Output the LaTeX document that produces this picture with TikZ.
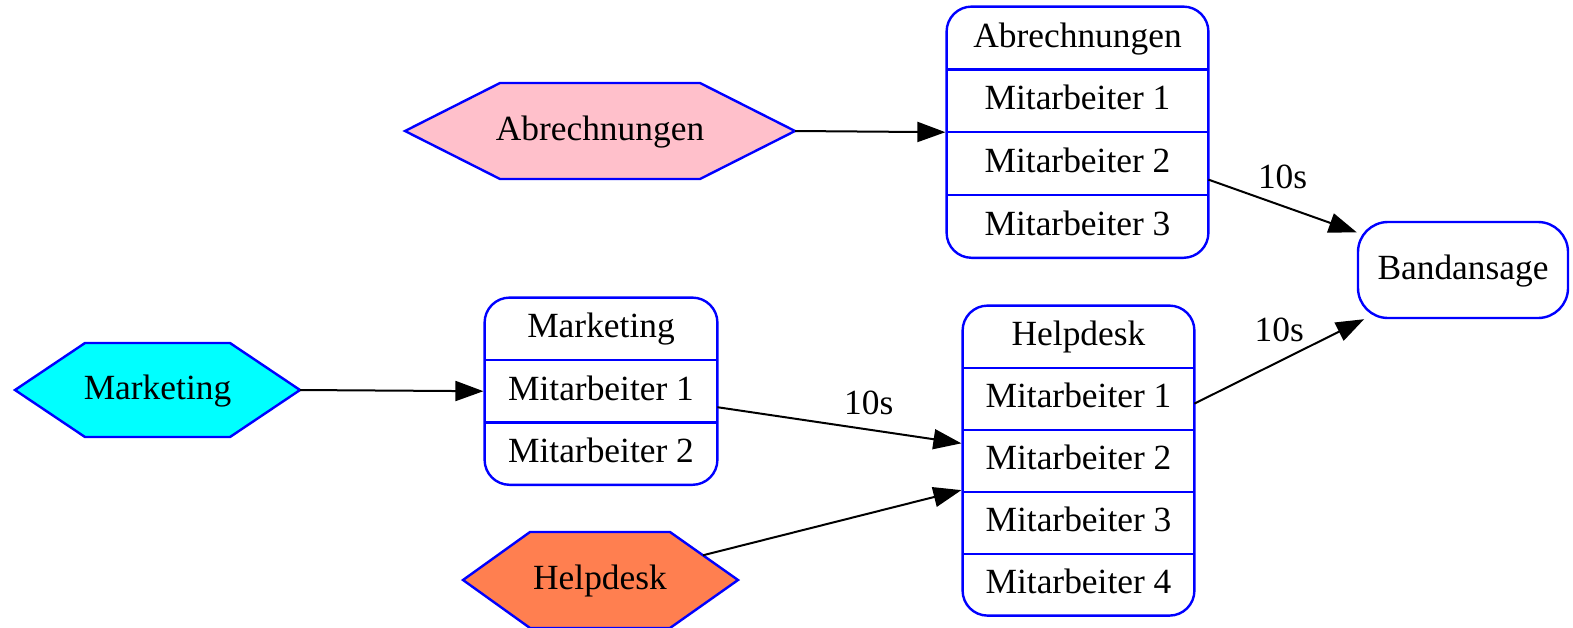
\documentclass[tikz,border=0pt]{standalone}
\usepackage{fontspec}
\setmainfont{Liberation Serif}
\usetikzlibrary{arrows.meta, positioning, fit, calc}

\definecolor{hexpink}{HTML}{FFC0CB}
\definecolor{hexcyan}{HTML}{00FFFF}
\definecolor{hexcoral}{HTML}{FF7F50}

\begin{document}
\begin{tikzpicture}[
  x=0.5pt, y=-0.5pt,
  font=\fontsize{17.7pt}{21pt}\selectfont,
  txt/.style = {inner sep=0, text height=13.3pt, text depth=4.3pt},
  row/.style = {txt, minimum height=31pt},
  abrrow/.style = {row, minimum width=130.5pt},
  mktrow/.style = {row, minimum width=116pt, minimum height=30.8pt},
  hdrow/.style = {row, minimum width=115.5pt, minimum height=30.6pt},
  rec/.style = {draw=blue, line width=1.2pt, rounded corners=12.5pt, inner sep=0},
  divline/.style = {draw=blue, line width=1.1pt},
  hexa/.style = {draw=blue, line width=1.2pt, line join=miter},
  arrow/.style = {line width=1pt, -{Triangle[length=14pt, width=10pt]}},
  lbl/.style = {txt}
]
  \useasboundingbox (0,0) rectangle (1573,627);

  % Abrechnungen
  \draw[hexa, fill=hexpink] (405,131) -- (500,83) -- (700,83)
    -- (795,131) coordinate (abrOut) -- (700,179) -- (500,179) -- cycle;
  \node[txt] (abrHex) at (600,131) {Abrechnungen};

  \node[abrrow] (abrT) at (1077.5,38) {Abrechnungen};
  \node[abrrow, below=0pt of abrT] (abr1) {Mitarbeiter 1};
  \node[abrrow, below=0pt of abr1] (abr2) {Mitarbeiter 2};
  \node[abrrow, below=0pt of abr2] (abr3) {Mitarbeiter 3};
  \node[rec, fit=(abrT)(abr3)] (abrRec) {};
  \foreach \r in {abrT,abr1,abr2}
    \draw[divline] (\r.south west) -- (\r.south east);

  % Marketing
  \draw[hexa, fill=hexcyan] (15,390) -- (85,343) -- (230,343)
    -- (300,390) coordinate (mktOut) -- (230,437) -- (85,437) -- cycle;
  \node[txt] (mktHex) at (157.5,390) {Marketing};

  \node[mktrow] (mktT) at (601,328.8) {Marketing};
  \node[mktrow, below=0pt of mktT] (mkt1) {Mitarbeiter 1};
  \node[mktrow, below=0pt of mkt1] (mkt2) {Mitarbeiter 2};
  \node[rec, fit=(mktT)(mkt2)] (mktRec) {};
  \foreach \r in {mktT,mkt1}
    \draw[divline] (\r.south west) -- (\r.south east);

  % Helpdesk
  \draw[hexa, fill=hexcoral] (463,580) -- (530,532) -- (670,532)
    -- coordinate[pos=0.485] (hdOut) (738,580) -- (670,628) -- (530,628) -- cycle;
  \node[txt] (hdHex) at (600,580) {Helpdesk};

  \node[hdrow] (hdT) at (1078.5,336.6) {Helpdesk};
  \node[hdrow, below=0pt of hdT] (hd1) {Mitarbeiter 1};
  \node[hdrow, below=0pt of hd1] (hd2) {Mitarbeiter 2};
  \node[hdrow, below=0pt of hd2] (hd3) {Mitarbeiter 3};
  \node[hdrow, below=0pt of hd3] (hd4) {Mitarbeiter 4};
  \node[rec, fit=(hdT)(hd4)] (hdRec) {};
  \foreach \r in {hdT,hd1,hd2,hd3}
    \draw[divline] (\r.south west) -- (\r.south east);

  % Bandansage
  \node[rec, txt, rounded corners=15pt, minimum width=105pt, minimum height=48pt]
    (band) at (1463,270) {Bandansage};

  % edges
  \draw[arrow] (abrOut) -- (abrRec.west);
  \draw[arrow] (mktOut) -- (mktRec.west);
  \draw[arrow] (hdOut) -- (hdRec);
  \draw[arrow] ($(abr2.east)+(0,16)$) -- node[lbl, midway, above=4pt] {10s} (band);
  \draw[arrow] ($(hd1.east)+(0,5)$) -- node[lbl, midway, above=5pt] {10s} (band);
  \draw[arrow] ($(mkt1.east)+(0,16)$) -- node[lbl, pos=0.62, above=3pt] {10s} (hdRec);

\end{tikzpicture}
\end{document}
